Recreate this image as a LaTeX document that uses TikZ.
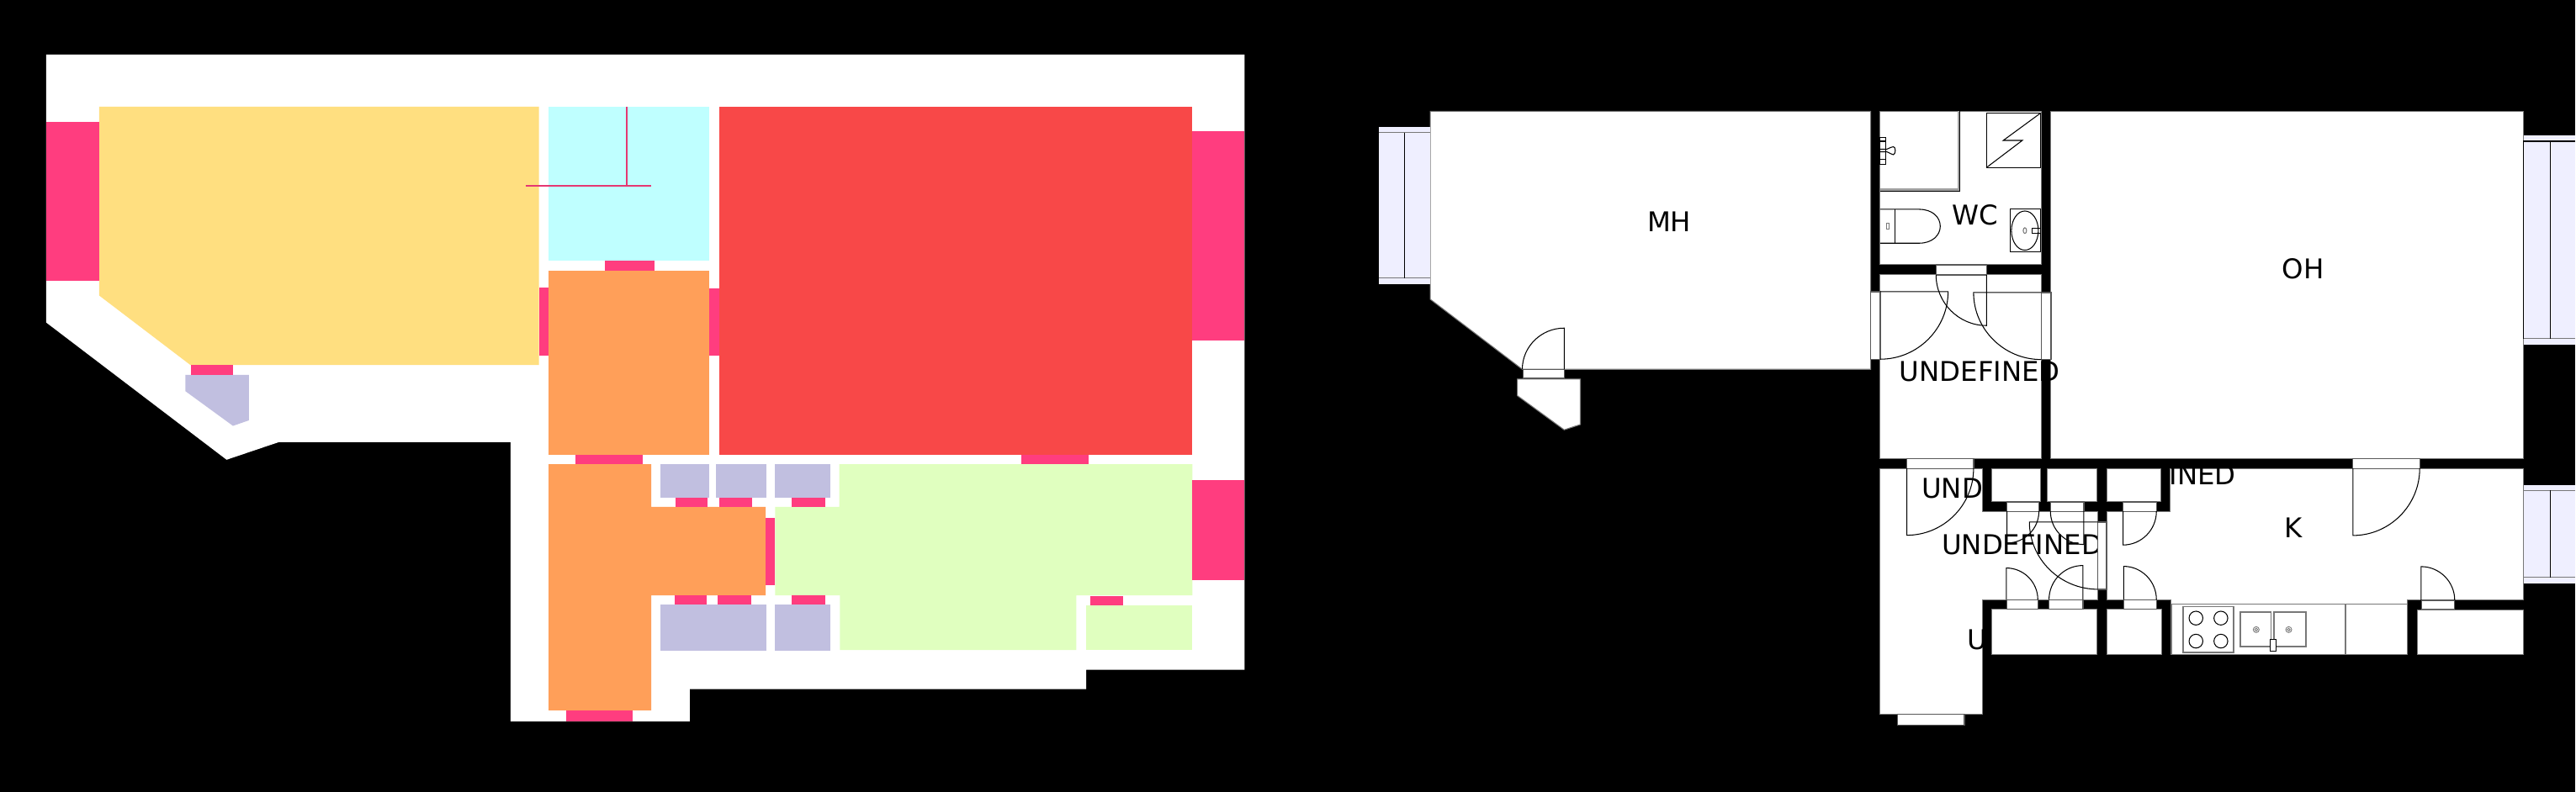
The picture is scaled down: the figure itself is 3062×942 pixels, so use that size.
\documentclass[tikz,border=0pt]{standalone}
\usepackage{fontspec}
\setmainfont{DejaVu Sans}
\definecolor{roomYellow}{RGB}{255, 223, 128}
\definecolor{roomCyan}{RGB}{191, 255, 255}
\definecolor{roomOrange}{RGB}{255, 159, 89}
\definecolor{roomRed}{RGB}{248, 72, 72}
\definecolor{roomGreen}{RGB}{224, 255, 191}
\definecolor{roomPurple}{RGB}{193, 191, 224}
\definecolor{openPink}{RGB}{255, 61, 127}
\definecolor{glassBlue}{RGB}{239, 239, 255}
\definecolor{edgeGray}{RGB}{120, 120, 120}
% door leaf hinged at (#1,#2): first the leaf along y, or along x, then the swing
\newcommand{\doorLeafY}[4]{\draw[thinline] (#1,#2) -- ++(0,#4) .. controls +({0.55*(#3)},0) and +(0,{0.55*(#4)}) .. ++({#3},{-(#4)});}
\newcommand{\doorLeafX}[4]{\draw[thinline] (#1,#2) -- ++(#3,0) .. controls +(0,{0.55*(#4)}) and +({0.55*(#3)},0) .. ++({-(#3)},{#4});}

\begin{document}
\begin{tikzpicture}[x=0.01cm, y=-0.01cm,
    thinline/.style={draw=black, line width=0.3pt},
    roomwhite/.style={fill=white, draw=edgeGray, line width=0.3pt},
    doorframe/.style={fill=white, draw=black!65, line width=0.35pt},
    glass/.style={fill=glassBlue},
    label/.style={inner sep=0pt, font=\fontsize{9.2pt}{11pt}\selectfont}]
      % Background
      \fill[black] (0,0) rectangle (3062,942);

      % Left plan: outline
      \fill[white] (55,65) -- (1479.7,65) -- (1479.7,796.7) -- (1291.3,796.7) -- (1291.3,819.7) -- (820,819.7) -- (820,858.3) -- (607,858.3) -- (607,525.9) -- (331.6,525.9) -- (269.4,546.9) -- (55,383.7) -- cycle;

      % Left plan: rooms
      \fill[roomYellow] (118,127) -- (640.8,127) -- (640.8,434.3) -- (226.5,434.3) -- (118,351.6) -- cycle;
      \fill[roomCyan] (652.2,127) rectangle (843,310);
      \fill[roomOrange] (652.2,322) rectangle (843,541);
      \fill[roomRed] (855.3,127) rectangle (1417.5,541);
      \fill[roomOrange] (652.2,552.3) -- (774.3,552.3) -- (774.3,603) -- (910.4,603) -- (910.4,708.3) -- (774.3,708.3) -- (774.3,845) -- (652.2,845) -- cycle;
      \fill[roomGreen] (997.9,552.3) -- (1417.5,552.3) -- (1417.5,708.3) -- (1279.6,708.3) -- (1279.6,773.3) -- (998.5,773.3) -- (998.5,708.3) -- (921.6,708.3) -- (921.6,603) -- (997.9,603) -- cycle;
      \fill[roomGreen] (1291.3,720) rectangle (1417.5,773.3);

      % Left plan: closets and balcony
      \fill[roomPurple] (784.9,552.3) rectangle (843.5,592);
      \fill[roomPurple] (851.2,552.3) rectangle (911,592);
      \fill[roomPurple] (921.6,552.3) rectangle (986.7,592);
      \fill[roomPurple] (784.9,719.3) rectangle (911,773.7);
      \fill[roomPurple] (921.6,719.3) rectangle (987.3,773.7);
      \fill[roomPurple] (220.4,446) -- (296,446) -- (296,500) -- (277,506.6) -- (220.4,465.3) -- cycle;

      % Left plan: windows and doors
      \fill[openPink] (55,145) rectangle (118,333.7);
      \fill[openPink] (1417.5,155.7) rectangle (1479.7,405.3);
      \fill[openPink] (1417.5,571) rectangle (1479.7,689.7);
      \fill[openPink] (719,310) rectangle (778.4,322);
      \fill[openPink] (640.8,342) rectangle (652.2,422.7);
      \fill[openPink] (843,343) rectangle (855.3,423);
      \fill[openPink] (227,434.3) rectangle (277,446);
      \fill[openPink] (684,541) rectangle (763.7,552.3);
      \fill[openPink] (1214.4,541) rectangle (1294.2,552.3);
      \fill[openPink] (672.8,845) rectangle (752.6,858.3);
      \fill[openPink] (803,592) rectangle (841.2,603);
      \fill[openPink] (854.7,592) rectangle (894.6,603);
      \fill[openPink] (941,592) rectangle (981.5,603);
      \fill[openPink] (910.4,615.7) rectangle (921.6,696);
      \fill[openPink] (802.5,708.3) rectangle (840,719.3);
      \fill[openPink] (853,708.3) rectangle (893.4,719.3);
      \fill[openPink] (941.5,708.3) rectangle (980.9,719.3);
      \fill[openPink] (1296,709) rectangle (1335.3,720);
      \draw[openPink!90!black, line width=0.55pt] (745.5,127) -- (745.5,221) (625,221) -- (774.5,221);

      % Right plan: rooms
      \draw[roomwhite] (1700.4,132.3) -- (2224,132.3) -- (2224,439.3) -- (1809.8,439.3) -- (1700.4,356) -- cycle;
      \draw[roomwhite] (2235.3,132.3) rectangle (2426.7,315);
      \draw[roomwhite] (2235.3,326.7) rectangle (2426.7,546);
      \draw[roomwhite] (2438.3,132.3) rectangle (3000.3,545.7);
      \draw[roomwhite] (2235.3,557.3) -- (2357.3,557.3) -- (2357.3,608.3) -- (2493.5,608.3) -- (2493.5,713.3) -- (2357.3,713.3) -- (2357.3,850) -- (2235.3,850) -- cycle;
      \draw[roomwhite] (2580.3,557.3) -- (3000.3,557.3) -- (3000.3,714) -- (2862.3,714) -- (2862.3,778.3) -- (2581,778.3) -- (2581,713.3) -- (2505,713.3) -- (2505,608.3) -- (2580.3,608.3) -- cycle;
      \draw[roomwhite] (1804,451) -- (1878.8,451) -- (1878.8,505) -- (1859.6,511.3) -- (1804,470.7) -- cycle;

      % Room labels
      \node[label] (labelMH) at (1984.5,263.7) {MH};
      \node[label] (labelWC) at (2348.3,255.7) {WC};
      \node[label] (labelOH) at (2738.3,319.5) {OH};
      \node[label] (labelK) at (2726.7,628.3) {K};
      \node[label] (labelHall) at (2353.8,442.5) {UNDEFINED};
      \node[label] (labelRoom) at (2380,581) {UNDEFINED};
      \node[label] (labelCorridor) at (2404,648) {UNDEFINED};
      \node[label] (labelClosetTop) at (2562.8,564.7) {UNDEFINED};
      \node[label] (labelClosetLow) at (2434,761) {UNDEFINED};

      % Right plan: closets, they hide parts of the labels
      \draw[roomwhite] (2368.3,557.3) rectangle (2426.3,597);
      \draw[roomwhite] (2434.3,557.3) rectangle (2493.3,597);
      \draw[roomwhite] (2505,557.3) rectangle (2569,597);
      \draw[roomwhite] (2368.3,724.3) rectangle (2493.3,778.3);
      \draw[roomwhite] (2505,724.3) rectangle (2569.7,778.3);
      \draw[roomwhite] (2874,725.3) rectangle (3000,778.3);

      % Windows
      \fill[glass] (1639.2,150.7) rectangle (1700.4,338);
      \draw[thinline, draw=edgeGray] (1639.2,157.7) -- (1700.4,157.7) (1639.2,330.7) -- (1700.4,330.7);
      \draw[thinline] (1669.4,157.7) -- (1669.4,330.7);
      \fill[glass] (3000.3,160.7) rectangle (3062,409.7);
      \draw[thinline] (3000.3,403) -- (3000.3,168) -- (3062,168);
      \draw[thinline, draw=edgeGray] (3000.3,403) -- (3062,403);
      \draw[thinline] (3031.7,168) -- (3031.7,403);
      \fill[glass] (3000.7,576.7) rectangle (3062,694);
      \draw[thinline, draw=edgeGray] (3000.7,583.3) -- (3062,583.3) (3000.7,687) -- (3062,687);
      \draw[thinline] (3031.7,583.3) -- (3031.7,687);

      % Door frames
      \draw[doorframe] (1810.6,439.3) rectangle (1859.6,450);
      \draw[doorframe] (2301.7,315) rectangle (2361.7,327);
      \draw[doorframe] (2223.7,347) rectangle (2235.3,427.3);
      \draw[doorframe] (2426.7,348) rectangle (2438.3,427.7);
      \draw[doorframe] (2267,545.7) rectangle (2346.3,557.3);
      \draw[doorframe] (2797.3,545.7) rectangle (2876.7,557.3);
      \draw[doorframe] (2256,850) rectangle (2335.3,862.3);
      \draw[doorframe] (2386,597) rectangle (2424,608.3);
      \draw[doorframe] (2437.7,597) rectangle (2477.3,608.3);
      \draw[doorframe] (2524,597) rectangle (2563.7,608.3);
      \draw[doorframe] (2386,713.3) rectangle (2422.7,724.3);
      \draw[doorframe] (2436,713.3) rectangle (2476.3,724.3);
      \draw[doorframe] (2524.7,713.3) rectangle (2563.7,724.3);
      \draw[doorframe] (2494,621) rectangle (2504.3,701);
      \draw[doorframe] (2879,714) rectangle (2918,725);

      % Door leaves
      \doorLeafY{1859.6}{439.3}{-49.8}{-49}
      \doorLeafY{2361.7}{327}{-60}{60.3}
      \doorLeafY{2267}{557.3}{79.3}{79.4}
      \doorLeafY{2797.3}{557.3}{79.4}{79.7}
      \doorLeafY{2386}{608.3}{38}{37.7}
      \doorLeafY{2477.3}{608.3}{-39.6}{39.4}
      \doorLeafY{2524}{608.3}{39.7}{40}
      \doorLeafY{2385.3}{713.3}{37.4}{-37.6}
      \doorLeafY{2476.3}{713.3}{-40.3}{-40.6}
      \doorLeafY{2524.7}{713.3}{39}{-39.6}
      \doorLeafY{2878.3}{714}{40}{-40}
      \doorLeafX{2235.3}{347}{80.7}{80.3}
      \doorLeafX{2426.7}{348}{-80.4}{79.7}
      \doorLeafX{2494}{621}{-81.3}{80}

      % Shower and tap
      \draw[edgeGray!70, line width=0.75pt] (2328.8,132.3) -- (2328.8,225.8) -- (2235.3,225.8);
      \draw[thinline] (2330.3,132.3) -- (2330.3,227.3) -- (2235.3,227.3);
      \draw[thinline] (2235.3,163.5) rectangle (2241.7,195.5);
      \draw[thinline] (2235.3,168) -- (2241.7,168) (2235.3,190) -- (2241.7,190);
      \draw[thinline] (2235.3,177.5) -- (2243,177.5) .. controls (2247,176) and (2249,174.5) .. (2251,174.5) .. controls (2254,175) and (2254,183) .. (2251,184) .. controls (2249,184) and (2247,182) .. (2243,180.5) -- (2235.3,180.5);

      % Floor drain
      \draw[thinline] (2361.7,134.3) rectangle (2426.3,199.3);
      \draw[thinline] (2361.7,199.3) -- (2404.3,167) -- (2381.7,167) -- (2426.3,134.3);

      % Toilet
      \draw[thinline] (2235.3,249) -- (2281.7,249) .. controls (2297,249) and (2306.7,258) .. (2306.7,269.2) .. controls (2306.7,280) and (2297,289.3) .. (2281.7,289.3) -- (2235.3,289.3);
      \draw[thinline] (2253.3,249) -- (2253.3,289.3);
      \draw[thinline, draw=edgeGray] (2242.7,266) rectangle (2246,272.7);

      % Sink
      \draw[thinline] (2390.3,248.3) rectangle (2426.3,299.3);
      \draw[thinline] (2407.3,274.3) ellipse (16 and 23.3);
      \draw[thinline, draw=edgeGray] (2407.3,274.3) ellipse (2 and 3.4);
      \draw[thinline] (2416.3,271.3) rectangle (2426.3,277.3);

      % Kitchen
      \draw[roomwhite] (2582.3,718.7) rectangle (2862.3,778.3);
      \draw[thinline, draw=edgeGray, line width=0.5pt] (2788.3,718.7) -- (2788.3,778.3);
      \draw[thinline, draw=edgeGray, line width=0.5pt] (2595.7,721.7) rectangle (2655.3,776.3);
      \draw[thinline] (2610.7,735.3) circle (8.2);
      \draw[thinline] (2640.3,735.3) circle (8.2);
      \draw[thinline] (2610.7,762.7) circle (8.2);
      \draw[thinline] (2640.3,762.7) circle (8.2);
      \draw[thinline, draw=edgeGray, line width=0.45pt] (2663.3,728) rectangle (2700,769);
      \draw[thinline, draw=edgeGray, line width=0.45pt] (2703.7,728) rectangle (2741.7,769);
      \draw[thinline, draw=edgeGray, line width=0.25pt] (2682.3,749) circle (3.5);
      \draw[thinline, draw=edgeGray, line width=0.25pt] (2682.3,749) circle (1.7);
      \draw[thinline, draw=edgeGray, line width=0.25pt] (2721,749) circle (3.5);
      \draw[thinline, draw=edgeGray, line width=0.25pt] (2721,749) circle (1.7);
      \draw[thinline, fill=white] (2699.3,760.3) rectangle (2705.7,774.3);
\end{tikzpicture}
\end{document}
